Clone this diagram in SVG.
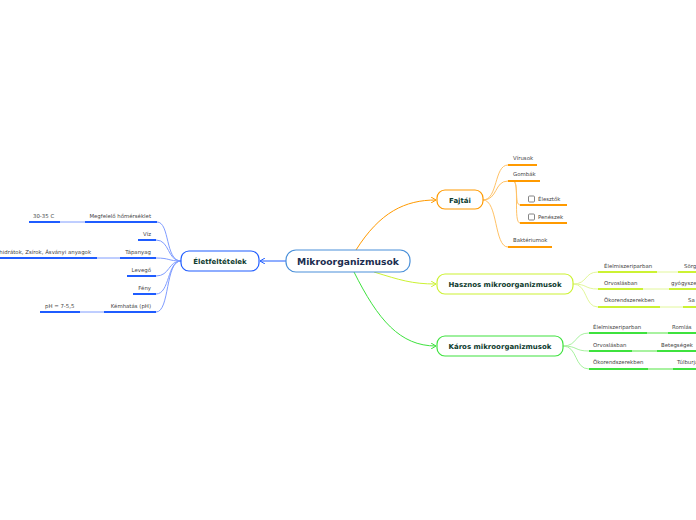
<svg xmlns="http://www.w3.org/2000/svg" width="696" height="520" viewBox="0 0 696 520">
<style>
text{font-family:"DejaVu Sans","Verdana",sans-serif}
.leaf{font-size:5.4px;fill:#444}
.node{font-size:7px;font-weight:bold;fill:#0d3b2e;text-anchor:middle}
.con{fill:none;stroke-width:1}
.ul{stroke-width:2;fill:none}
.b{stroke:#1f5cff}.bc{stroke:#7f9cff}
.o{stroke:#ff9a00}.oc{stroke:#ffc266}
.y{stroke:#ccf233}.yc{stroke:#e2f79a}
.g{stroke:#3ee23e}.gc{stroke:#a8f2a0}
</style>
<defs>
<marker id="ab" markerWidth="6" markerHeight="6" refX="5" refY="3" orient="auto" markerUnits="userSpaceOnUse"><path d="M0,0 L5,3 L0,6" fill="none" stroke="#1f5cff" stroke-width="1"/></marker>
<marker id="ao" markerWidth="6" markerHeight="6" refX="5" refY="3" orient="auto" markerUnits="userSpaceOnUse"><path d="M0,0 L5,3 L0,6" fill="none" stroke="#ff9a00" stroke-width="1"/></marker>
<marker id="ay" markerWidth="6" markerHeight="6" refX="5" refY="3" orient="auto" markerUnits="userSpaceOnUse"><path d="M0,0 L5,3 L0,6" fill="none" stroke="#ccf233" stroke-width="1"/></marker>
<marker id="ag" markerWidth="6" markerHeight="6" refX="5" refY="3" orient="auto" markerUnits="userSpaceOnUse"><path d="M0,0 L5,3 L0,6" fill="none" stroke="#3ee23e" stroke-width="1"/></marker>
</defs>
<rect width="696" height="520" fill="#fff"/>
<g id="connectors">
<path class="con b" d="M286,261 L260,261" marker-end="url(#ab)"/>
<path class="con o" d="M356,250 C380,212 405,200 436,200" marker-end="url(#ao)"/>
<path class="con y" d="M374,272 C400,280 412,284 436,284" marker-end="url(#ay)"/>
<path class="con g" d="M354,272 C378,320 400,346 436,346" marker-end="url(#ag)"/>
<!-- left -->
<path class="con bc" d="M181,261 C165,261 170,222 157,222"/>
<path class="con bc" d="M181,261 C167,261 170,240 156,240"/>
<path class="con bc" d="M181,261 C168,261 170,258 156,258"/>
<path class="con bc" d="M181,261 C168,261 170,276 156,276"/>
<path class="con bc" d="M181,261 C167,261 170,294 156,294"/>
<path class="con bc" d="M181,261 C165,261 170,312 156,312"/>
<path class="con bc" d="M85,222 L60,222"/>
<path class="con bc" d="M120,258 L97,258"/>
<path class="con bc" d="M104,312 L80,312"/>
<!-- fajtai -->
<path class="con oc" d="M483,200 C498,200 494,165 508,165"/>
<path class="con oc" d="M483,200 C498,200 494,181 508,181"/>
<path class="con oc" d="M483,200 C498,200 494,247 508,247"/>
<path class="con oc" d="M513,181 C519,181 514,205 520,205"/>
<path class="con oc" d="M513,181 C520,181 513,223 520,223"/>
<!-- hasznos -->
<path class="con yc" d="M573,284 C588,284 584,272 598,272"/>
<path class="con yc" d="M573,284 C588,284 584,289 598,289"/>
<path class="con yc" d="M573,284 C588,284 584,307 598,307"/>
<path class="con yc" d="M657,272 L678,272"/>
<path class="con yc" d="M643,289 L669,289"/>
<path class="con yc" d="M660,307 L683,307"/>
<!-- karos -->
<path class="con gc" d="M563,346 C578,346 574,333 589,333"/>
<path class="con gc" d="M563,346 C578,346 574,351 589,351"/>
<path class="con gc" d="M563,346 C578,346 574,369 589,369"/>
<path class="gc" stroke-width="2" d="M647,333 L668,333"/>
<path class="gc" stroke-width="2" d="M632,351 L657,351"/>
<path class="gc" stroke-width="2" d="M648,369 L673,369"/>
</g>
<g id="center">
<rect x="286" y="250" width="124" height="22" rx="10" fill="#fff" stroke="#4a90d9" stroke-width="1.2"/>
<text x="348" y="265" font-size="9.2" font-weight="bold" fill="#1b2d4f" text-anchor="middle">Mikroorganizmusok</text>
</g>
<g id="eletfeltetelek">
<rect x="181" y="251" width="78" height="20" rx="8" fill="#fff" stroke="#1f5cff" stroke-width="1.2"/>
<text class="node" x="220" y="263.5" font-size="6.3">Életfeltételek</text>
</g>
<g id="megfelelo">
<path class="ul b" d="M85,222 H157"/><text class="leaf" x="151" y="218" text-anchor="end">Megfelelő hőmérséklet</text>
</g>
<g id="t3035">
<path class="ul b" d="M29,222 H60"/><text class="leaf" x="33" y="218">30-35 C</text>
</g>
<g id="viz">
<path class="ul b" d="M138,240 H156"/><text class="leaf" x="151" y="236" text-anchor="end">Víz</text>
</g>
<g id="tapanyag">
<path class="ul b" d="M120,258 H156"/><text class="leaf" x="151" y="254" text-anchor="end">Tápanyag</text>
</g>
<g id="szenhidratok">
<path class="ul b" d="M0,258 H97"/><text class="leaf" x="91" y="254" text-anchor="end">Szénhidrátok, Zsírok, Ásványi anyagok</text>
</g>
<g id="levego">
<path class="ul b" d="M127,276 H156"/><text class="leaf" x="151" y="272" text-anchor="end">Levegő</text>
</g>
<g id="feny">
<path class="ul b" d="M133,294 H156"/><text class="leaf" x="151" y="290" text-anchor="end">Fény</text>
</g>
<g id="kemhatas">
<path class="ul b" d="M104,312 H156"/><text class="leaf" x="151" y="308" text-anchor="end">Kémhatás (pH)</text>
</g>
<g id="ph">
<path class="ul b" d="M40,312 H80"/><text class="leaf" x="45" y="308">pH = 7-5,5</text>
</g>
<g id="fajtai">
<rect x="437" y="190" width="46" height="19" rx="8" fill="#fff" stroke="#ff9a00" stroke-width="1.2"/>
<text class="node" x="460" y="202.5">Fajtái</text>
</g>
<g id="virusok">
<path class="ul o" d="M508,165 H537"/><text class="leaf" x="513" y="160">Vírusok</text>
</g>
<g id="gombak">
<path class="ul o" d="M508,181 H540"/><text class="leaf" x="513" y="176">Gombák</text>
</g>
<g id="elesztok">
<path class="ul o" d="M520,205 H567"/>
<rect x="528.5" y="196" width="6" height="6" rx="1" fill="#fff" stroke="#666" stroke-width="0.8"/>
<text class="leaf" x="538" y="201">Élesztők</text>
</g>
<g id="peneszek">
<path class="ul o" d="M520,223 H567"/>
<rect x="528.5" y="214" width="6" height="6" rx="1" fill="#fff" stroke="#666" stroke-width="0.8"/>
<text class="leaf" x="538" y="219">Penészek</text>
</g>
<g id="bakteriumok">
<path class="ul o" d="M508,247 H552"/><text class="leaf" x="513" y="242">Baktériumok</text>
</g>
<g id="hasznos">
<rect x="437" y="274" width="136" height="20" rx="8" fill="#fff" stroke="#ccf233" stroke-width="1.2"/>
<text class="node" x="505" y="287">Hasznos mikroorganizmusok</text>
</g>
<g id="h-elelmiszer">
<path class="ul y" d="M598,272 H657"/><text class="leaf" x="604" y="268">Élelmiszeriparban</text>
</g>
<g id="h-sor">
<path class="ul y" d="M678,272 H700"/><text class="leaf" x="684" y="268">Sörgyártás</text>
</g>
<g id="h-orvos">
<path class="ul y" d="M598,289 H643"/><text class="leaf" x="604" y="285">Orvoslásban</text>
</g>
<g id="h-gyogy">
<path class="ul y" d="M669,289 H700"/><text class="leaf" x="671" y="285">gyógyszergyártás</text>
</g>
<g id="h-oko">
<path class="ul y" d="M598,307 H660"/><text class="leaf" x="604" y="302">Ökorendszerekben</text>
</g>
<g id="h-sa">
<path class="ul y" d="M683,307 H700"/><text class="leaf" x="688" y="302">Sa</text>
</g>
<g id="karos">
<rect x="437" y="336" width="126" height="20" rx="8" fill="#fff" stroke="#3ee23e" stroke-width="1.2"/>
<text class="node" x="500" y="349">Káros mikroorganizmusok</text>
</g>
<g id="k-elelmiszer">
<path class="ul g" d="M589,333 H647"/><text class="leaf" x="593" y="329">Élelmiszeriparban</text>
</g>
<g id="k-romlas">
<path class="ul g" d="M668,333 H700"/><text class="leaf" x="672" y="329">Romlás</text>
</g>
<g id="k-orvos">
<path class="ul g" d="M589,351 H632"/><text class="leaf" x="593" y="347">Orvoslásban</text>
</g>
<g id="k-beteg">
<path class="ul g" d="M657,351 H700"/><text class="leaf" x="661" y="347">Betegségek</text>
</g>
<g id="k-oko">
<path class="ul g" d="M589,369 H648"/><text class="leaf" x="593" y="364">Ökorendszerekben</text>
</g>
<g id="k-tulbu">
<path class="ul g" d="M673,369 H700"/><text class="leaf" x="677" y="364">Túlburjánzás</text>
</g>
</svg>
